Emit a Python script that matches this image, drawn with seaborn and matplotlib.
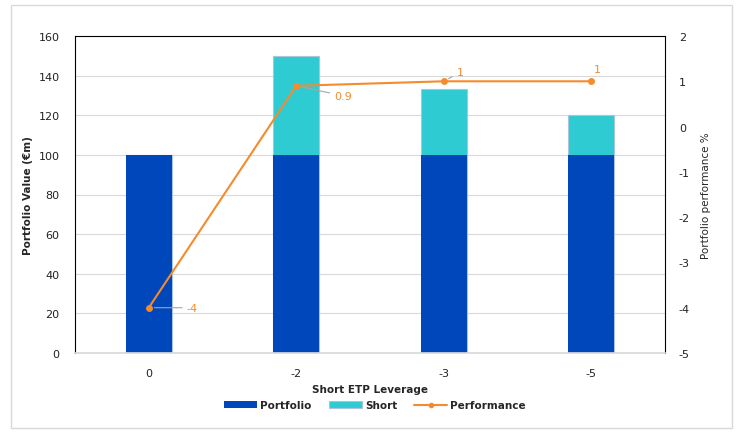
import numpy as np
import pandas as pd
import matplotlib
matplotlib.use('Agg')
import matplotlib.pyplot as plt
import seaborn as sns
from matplotlib.patches import Rectangle, Patch
from matplotlib.lines import Line2D

# chart data
leverage = ['0', '-2', '-3', '-5']
portfolio = [100, 100, 100, 100]
short = [0, 50, 33.3, 20]
performance = [-4, 0.9, 1, 1]
perf_labels = ['-4', '0.9', '1', '1']

c_port = '#0047BB'
c_short = '#2ECBD3'
c_perf = '#F58B2C'

sns.set_theme(style='white')
plt.rcParams['font.family'] = ['DejaVu Sans']
plt.rcParams['font.size'] = 7.5
plt.rcParams['axes.unicode_minus'] = False

df = pd.DataFrame({'leverage': leverage, 'portfolio': portfolio, 'short': short})
df['total'] = df['portfolio'] + df['short']

fig = plt.figure(figsize=(7.39, 4.35), dpi=100)
ax = fig.add_axes([75 / 739, 1 - 354 / 435, 590 / 739, 317 / 435])

# stacked bars: total in short colour, portfolio on top of it
sns.barplot(data=df, x='leverage', y='total', color=c_short, width=0.31,
            saturation=1, edgecolor='#A9C4DC', linewidth=0.8, ax=ax)
sns.barplot(data=df, x='leverage', y='portfolio', color=c_port, width=0.31,
            saturation=1, linewidth=0, ax=ax)

ax.set_xlim(-0.5, 3.5)
ax.set_ylim(0, 160)
ax.set_yticks(np.arange(0, 161, 20))
ax.yaxis.grid(True, color='#D9D9D9', linewidth=0.8)
ax.set_axisbelow(True)
ax.tick_params(axis='both', length=0, labelsize=8, colors='#222222', pad=11)
ax.tick_params(axis='y', pad=11)
ax.set_xlabel('Short ETP Leverage', fontweight='bold', fontsize=7.5, labelpad=4)
ax.set_ylabel('Portfolio Value (€m)', fontweight='bold', fontsize=7.5, labelpad=4)
for side in ['left', 'top', 'right']:
    ax.spines[side].set_color('black')
    ax.spines[side].set_linewidth(0.8)
ax.spines['bottom'].set_color('#D9D9D9')

ax2 = ax.twinx()
xpos = np.arange(len(leverage))
sns.lineplot(x=xpos, y=performance, color=c_perf, marker='o', markersize=5,
             markeredgewidth=0, linewidth=1.5, ax=ax2)
ax2.set_ylim(-5, 2)
ax2.set_yticks(np.arange(-5, 3, 1))
ax2.tick_params(axis='y', length=0, labelsize=8, colors='#222222', pad=10)
ax2.set_ylabel('Portfolio performance %', fontsize=7.5, labelpad=8)
for s in ax2.spines.values():
    s.set_visible(False)

# data labels
lead = dict(arrowstyle='-', color='#A6A6A6', lw=0.8, shrinkA=1, shrinkB=4)
offsets = [(38, 0), (38, -10), (13, 9), (3, 12)]
for i, (v, lab) in enumerate(zip(performance, perf_labels)):
    ap = lead if i < 3 else None
    ax2.annotate(lab, xy=(xpos[i], v), xytext=offsets[i], textcoords='offset pixels',
                 ha='left', va='center', color=c_perf, fontsize=8, arrowprops=ap)

# legend
handles = [Patch(facecolor=c_port, edgecolor='none'),
           Patch(facecolor=c_short, edgecolor='#A9C4DC', linewidth=0.8),
           Line2D([0], [0], color=c_perf, lw=1.5, marker='o', markersize=3)]
fig.legend(handles, ['Portfolio', 'Short', 'Performance'], loc='center',
           bbox_to_anchor=(375 / 739, 1 - 406 / 435), ncol=3, frameon=False,
           handlelength=3.2, handleheight=0.6, handletextpad=0.3, columnspacing=1.6,
           prop={'weight': 'bold', 'size': 7.5})

# outer chart border
fig.patches.append(Rectangle((11 / 739, 1 - 429 / 435), 721 / 739, 423 / 435,
                             transform=fig.transFigure, fill=False,
                             edgecolor='#D9D9D9', linewidth=1))

fig.savefig('out.png', dpi=100)
